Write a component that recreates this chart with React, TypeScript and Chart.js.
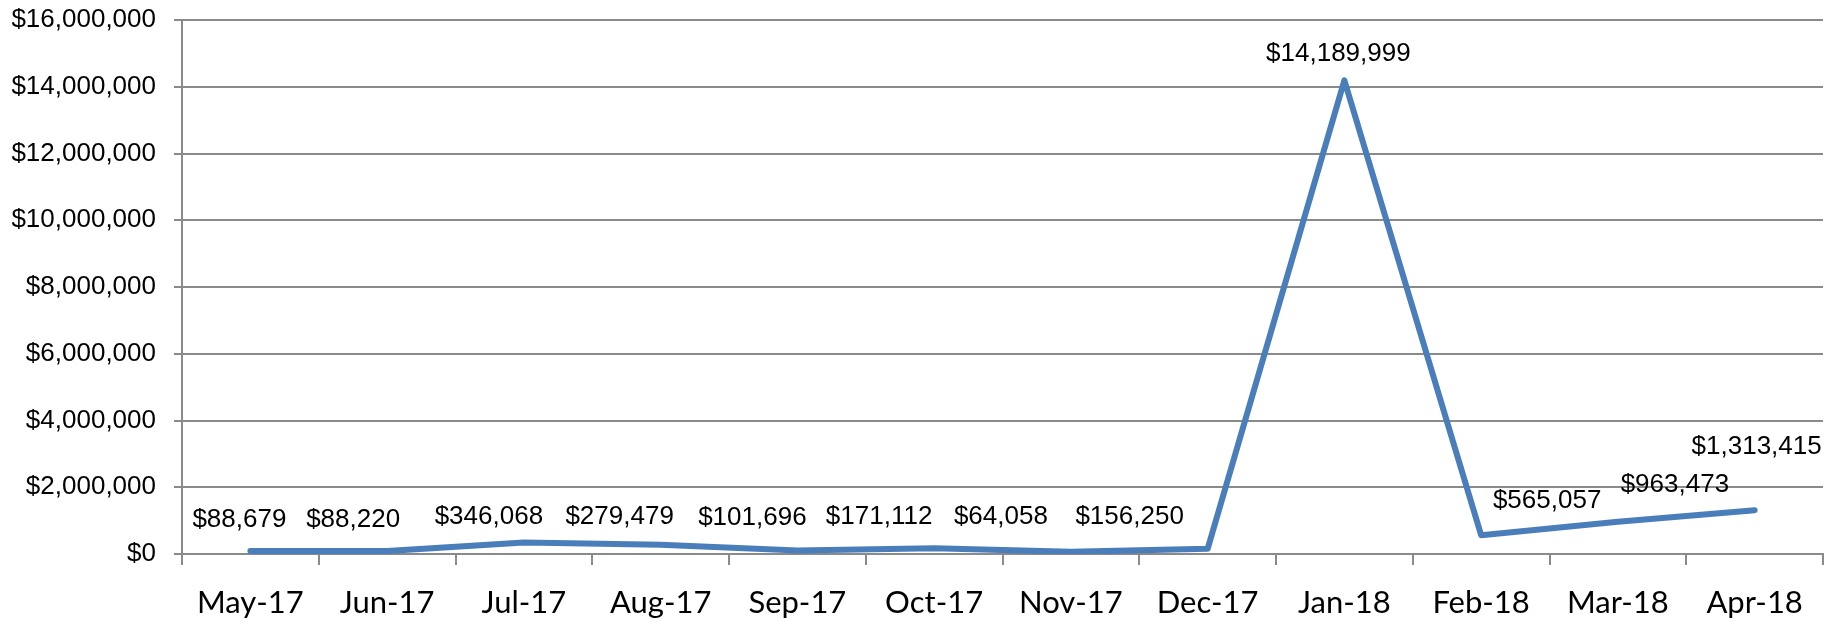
import React, { useEffect, useRef } from 'react';
import { Chart, registerables } from 'chart.js';

Chart.register(...registerables);

// ---- data ----
const months = ['May-17', 'Jun-17', 'Jul-17', 'Aug-17', 'Sep-17', 'Oct-17', 'Nov-17', 'Dec-17', 'Jan-18', 'Feb-18', 'Mar-18', 'Apr-18'];
const revenue = [88679, 88220, 346068, 279479, 101696, 171112, 64058, 156250, 14189999, 565057, 963473, 1313415];
const yMin = 0;
const yMax = 16000000;
const yStep = 2000000;

// ---- label nudges (pixels, relative to each point) ----
const labelDx = [-11, -34, -35, -41, -45, -55, -70, -78, -6, 66, 57, 2];
const labelDy = [-31, -31, -26, -28, -33, -31, -35, -32, -27, -34, -37, -63];

const money = (v: number) => '$' + Math.round(v).toLocaleString('en-US');

const valueLabels = {
  id: 'valueLabels',
  afterDatasetsDraw(chart: any) {
    const ctx = chart.ctx;
    const meta = chart.getDatasetMeta(0);
    ctx.save();
    ctx.font = '26px "Liberation Sans", Arial, sans-serif';
    ctx.fillStyle = '#000000';
    ctx.textAlign = 'center';
    ctx.textBaseline = 'middle';
    meta.data.forEach((pt: any, i: number) => {
      ctx.fillText(money(revenue[i]), pt.x + labelDx[i], pt.y + labelDy[i]);
    });
    ctx.restore();
  },
};

export default function App() {
  const canvasRef = useRef<HTMLCanvasElement | null>(null);

  useEffect(() => {
    document.body.style.margin = '0';
    const canvas = canvasRef.current;
    if (!canvas) return;
    const grid = '#8a8a8a';
    const chart = new Chart(canvas, {
      type: 'line',
      data: {
        labels: months,
        datasets: [
          {
            data: revenue,
            borderColor: '#4a7ebb',
            borderWidth: 6,
            pointRadius: 0,
            pointHoverRadius: 0,
            tension: 0,
            fill: false,
            borderCapStyle: 'round',
            borderJoinStyle: 'round',
          },
        ],
      },
      options: {
        responsive: false,
        animation: false,
        devicePixelRatio: 1,
        layout: { padding: { left: 0, right: 14, top: 20, bottom: 0 } },
        plugins: {
          legend: { display: false },
          tooltip: { enabled: false },
          title: { display: false },
        },
        scales: {
          x: {
            type: 'category',
            offset: true,
            grid: {
              display: true,
              offset: true,
              drawOnChartArea: false,
              drawTicks: true,
              tickLength: 11,
              color: grid,
              lineWidth: 2,
            },
            border: { display: true, color: grid, width: 2 },
            ticks: {
              color: '#000000',
              font: { family: 'Lato', size: 31 },
              padding: 19,
              maxRotation: 0,
              autoSkip: false,
            },
            afterFit(scale: any) {
              scale.height = 68;
              scale.paddingLeft = 0;
              scale.paddingRight = 0;
            },
          },
          y: {
            min: yMin,
            max: yMax,
            grid: {
              color: grid,
              lineWidth: 2,
              drawTicks: true,
              tickLength: 8,
            },
            border: { display: true, color: grid, width: 2 },
            ticks: {
              stepSize: yStep,
              color: '#000000',
              font: { family: '"Liberation Sans", Arial, sans-serif', size: 26 },
              padding: 18,
              callback: (v: any) => money(Number(v)),
            },
            afterFit(scale: any) {
              scale.width = 182;
              scale.paddingTop = 0;
              scale.paddingBottom = 0;
            },
          },
        },
      },
      plugins: [valueLabels],
    });
    return () => chart.destroy();
  }, []);

  return (
    <div style={{ width: 1837, height: 622, background: '#ffffff' }}>
      <canvas ref={canvasRef} width={1837} height={622} style={{ display: 'block' }} />
    </div>
  );
}
